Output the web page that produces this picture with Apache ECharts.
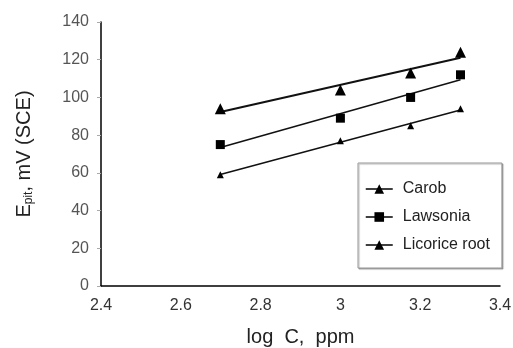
<!DOCTYPE html>
<html>
<head>
<meta charset="utf-8">
<script src="https://cdn.jsdelivr.net/npm/echarts@6/dist/echarts.min.js"></script>
<style>
  html, body {margin: 0; padding: 0; background: #fff;}
  #main {width: 513px; height: 348px;}
</style>
</head>
<body>
<div id="main"></div>
<script>
// log C values (500, 1000, 1500, 2000 ppm)
const logC = [2.699, 3.0, 3.176, 3.301];
const carob = [94, 104, 113, 124];
const lawsonia = [75, 89, 100, 112];
const licorice = [59, 77, 85, 94];
const seriesNames = ['Carob', 'Lawsonia', 'Licorice root'];
const yTicks = [0, 20, 40, 60, 80, 100, 120, 140];

// least-squares trend line through the points
function trend(xs, ys) {
  const n = xs.length;
  const mx = xs.reduce((a, b) => a + b, 0) / n;
  const my = ys.reduce((a, b) => a + b, 0) / n;
  let sxy = 0, sxx = 0;
  xs.forEach((x, i) => { sxy += (x - mx) * (ys[i] - my); sxx += (x - mx) * (x - mx); });
  const k = sxy / sxx, b = my - k * mx;
  const x0 = xs[0], x1 = xs[n - 1];
  return [[x0, k * x0 + b], [x1, k * x1 + b]];
}

const pts = (ys) => logC.map((x, i) => [x, ys[i]]);
const font = 'Liberation Sans, Arial';

const myChart = echarts.init(document.getElementById('main'));
const groups = [
  {name: seriesNames[0], ys: carob, symbol: 'triangle', size: 11, width: 2},
  {name: seriesNames[1], ys: lawsonia, symbol: 'rect', size: 9, width: 1.5},
  {name: seriesNames[2], ys: licorice, symbol: 'triangle', size: 7, width: 1.5},
];
const series = [];
groups.forEach(g => {
  series.push({
    name: g.name,
    type: 'line',
    data: pts(g.ys),
    symbol: g.symbol,
    symbolSize: g.size,
    itemStyle: {color: '#000'},
    lineStyle: {width: 0, color: '#000'},
    z: 3
  });
  series.push({
    name: g.name + ' trend',
    type: 'line',
    data: trend(logC, g.ys),
    symbol: 'none',
    lineStyle: {width: g.width, color: '#111'},
    silent: true,
    z: 2
  });
});

myChart.setOption({
  animation: false,
  backgroundColor: '#fff',
  grid: {left: 101, right: 13, top: 22, bottom: 62, outerBoundsMode: 'none'},
  legend: {
    data: seriesNames.map(n => ({name: n, itemStyle: {color: '#000'}, lineStyle: {width: 1.5, color: '#000'}})),
    orient: 'vertical',
    left: 358,
    top: 163,
    padding: [18, 12, 15, 7],
    itemGap: 12,
    itemWidth: 27,
    itemHeight: 12,
    borderColor: '#999',
    borderWidth: 1,
    backgroundColor: '#fff',
    shadowColor: 'rgba(0,0,0,0.3)',
    shadowOffsetX: 1,
    shadowOffsetY: 1,
    shadowBlur: 1,
    textStyle: {fontFamily: font, fontSize: 16, color: '#222', padding: [0, 0, 0, 5]}
  },
  xAxis: {
    type: 'value',
    min: 2.4,
    max: 3.4,
    interval: 0.2,
    name: 'log  C,  ppm',
    nameLocation: 'middle',
    nameGap: 41,
    nameTextStyle: {fontFamily: font, fontSize: 20, color: '#222'},
    axisLine: {lineStyle: {color: '#000', width: 1.5}},
    axisTick: {show: false},
    splitLine: {show: false},
    axisLabel: {
      fontFamily: font, fontSize: 16, color: '#333', margin: 12,
      formatter: v => String(Math.round(v * 10) / 10)
    }
  },
  yAxis: {
    type: 'value',
    min: yTicks[0],
    max: yTicks[yTicks.length - 1],
    interval: 20,
    name: '{e|E}{s|pit}{e|, mV (SCE)}',
    nameLocation: 'middle',
    nameGap: 66,
    nameRotate: 90,
    nameTextStyle: {
      rich: {
        e: {fontFamily: font, fontSize: 20, color: '#222'},
        s: {fontFamily: font, fontSize: 12, color: '#222', verticalAlign: 'bottom', padding: [9, 0, 0, 0]}
      }
    },
    axisLine: {show: true, lineStyle: {color: '#000', width: 1.5}},
    axisTick: {show: true, length: 4, lineStyle: {color: '#aaa'}},
    splitLine: {show: false},
    axisLabel: {fontFamily: font, fontSize: 16, color: '#555', margin: 12}
  },
  series: series
});
</script>
</body>
</html>
